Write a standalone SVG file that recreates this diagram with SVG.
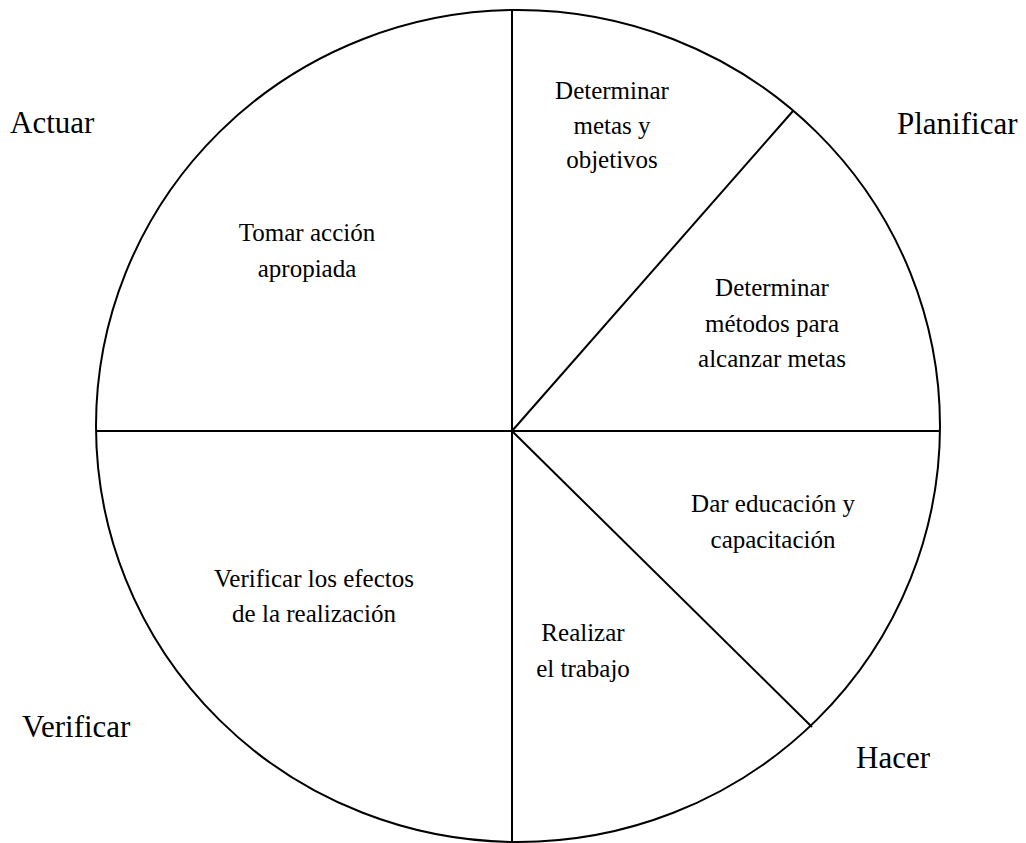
<svg xmlns="http://www.w3.org/2000/svg" width="1026" height="843" viewBox="0 0 1026 843">
  <style>
    .ln { stroke: #000; stroke-width: 2; fill: none; }
    .big { font-family: "Liberation Serif", "Times New Roman", serif; font-size: 31px; fill: #000; }
    .lbl { font-family: "Liberation Serif", "Times New Roman", serif; font-size: 25px; fill: #000; text-anchor: middle; }
  </style>
  <rect width="1026" height="843" fill="#fff"/>

  <!-- wheel outline and dividing lines -->
  <g id="connectors">
    <ellipse class="ln" cx="518" cy="426" rx="422" ry="416"/>
    <line class="ln" x1="512" y1="10" x2="512" y2="843"/>
    <line class="ln" x1="96" y1="431" x2="940" y2="431"/>
    <line class="ln" x1="512" y1="431" x2="793" y2="111"/>
    <line class="ln" x1="512" y1="431" x2="812" y2="727"/>
  </g>

  <!-- phase names around the wheel -->
  <g id="actuar"><text class="big" x="10" y="133">Actuar</text></g>
  <g id="planificar"><text class="big" x="897" y="134">Planificar</text></g>
  <g id="verificar"><text class="big" x="22" y="737">Verificar</text></g>
  <g id="hacer"><text class="big" x="856" y="768">Hacer</text></g>

  <!-- sector contents -->
  <g id="metas">
    <text class="lbl" x="612" y="99">Determinar</text>
    <text class="lbl" x="612" y="134">metas y</text>
    <text class="lbl" x="612" y="168">objetivos</text>
  </g>
  <g id="metodos">
    <text class="lbl" x="772" y="296">Determinar</text>
    <text class="lbl" x="772" y="332">métodos para</text>
    <text class="lbl" x="772" y="367">alcanzar metas</text>
  </g>
  <g id="educacion">
    <text class="lbl" x="773" y="512">Dar educación y</text>
    <text class="lbl" x="773" y="548">capacitación</text>
  </g>
  <g id="trabajo">
    <text class="lbl" x="583" y="641">Realizar</text>
    <text class="lbl" x="583" y="677">el trabajo</text>
  </g>
  <g id="efectos">
    <text class="lbl" x="314" y="587">Verificar los efectos</text>
    <text class="lbl" x="314" y="622">de la realización</text>
  </g>
  <g id="accion">
    <text class="lbl" x="307" y="241">Tomar acción</text>
    <text class="lbl" x="307" y="277">apropiada</text>
  </g>
</svg>
